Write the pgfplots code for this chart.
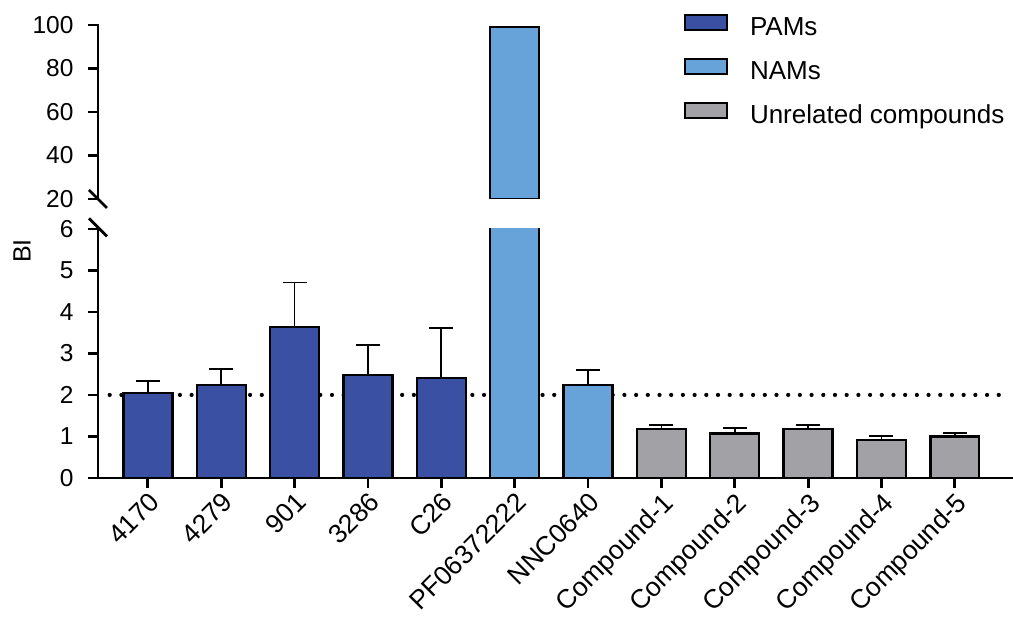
\documentclass[border=0pt]{standalone}
\usepackage{pgfplots}
\pgfplotsset{compat=1.18}
\usepackage{fontspec}
\setmainfont{Liberation Sans}
\definecolor{pam}{RGB}{58,81,163}
\definecolor{nam}{RGB}{103,162,216}
\definecolor{unr}{RGB}{161,161,166}
\begin{document}
\begin{tikzpicture}
\pgfplotsset{
  common/.style={
    scale only axis, width=915pt,
    xmin=-0.68, xmax=11.79,
    /pgf/number format/assume math mode=true,
    yticklabel style={font=\fontsize{24.5}{29}\selectfont, xshift=-11pt},
    ybar, bar shift=0pt, bar width=49pt,
    clip mode=individual,
  },
  errs/.style={error bars/.cd, y dir=plus, y explicit,
    error bar style={line width=1.8pt, black, solid},
    error mark options={rotate=90, mark size=12pt, line width=1.8pt, black}},
}
% lower axis
\begin{axis}[common, at={(0pt,0pt)}, anchor=south west, height=249pt,
  ymin=0, ymax=6, ytick={0,...,6},
  axis x line=bottom, axis y line=left,
  axis line style={-},
  major tick length=10pt, tick align=outside,
  xtick={0,...,11},
  xticklabels={4170,4279,901,3286,C26,PF06372222,NNC0640,Compound-1,Compound-2,Compound-3,Compound-4,Compound-5},
  xticklabel style={rotate=45, anchor=north east, inner sep=2pt, font=\fontsize{26.5}{30}\selectfont},
  ]
\addplot[sharp plot, forget plot, line width=4.2pt, line cap=round, dash pattern=on 0pt off 11.7pt, draw=black] coordinates {(-0.52,2) (11.61,2)};
\addplot[fill=pam, draw=black, line width=2.3pt, errs] coordinates {(0,2.04) +- (0,0.30) (1,2.24) +- (0,0.39) (2,3.63) +- (0,1.08) (3,2.48) +- (0,0.72) (4,2.40) +- (0,1.22)};
\addplot[fill=nam, draw=black, line width=2.3pt] coordinates {(5,99)};
\addplot[fill=nam, draw=black, line width=2.3pt, errs] coordinates {(6,2.24) +- (0,0.36)};
\addplot[fill=unr, draw=black, line width=2.3pt, errs] coordinates {(7,1.18) +- (0,0.10) (8,1.07) +- (0,0.14) (9,1.18) +- (0,0.10) (10,0.92) +- (0,0.09) (11,1.00) +- (0,0.09)};
\end{axis}
% upper axis
\begin{axis}[common, at={(0pt,279pt)}, anchor=south west, height=174pt,
  ymin=20, ymax=100, ytick={20,40,...,100},
  axis y line=left, axis x line=none, xtick=\empty,
  axis line style={-},
  major tick length=10pt, tick align=outside,
  legend style={at={(0.6404,1.063)}, anchor=north west, draw=none, fill=none,
    column sep=22pt, row sep=17pt, inner sep=0pt,
    nodes={inner sep=0pt, text height=19pt, text depth=6pt, font=\fontsize{26}{30}\selectfont}},
  legend cell align=left,
  ]
\addplot[fill=nam, draw=black, line width=2.3pt, forget plot] coordinates {(5,99)};
\addlegendimage{legend image code/.code={\draw[fill=pam,draw=black,line width=2pt] (0pt,-1.5pt) rectangle (42pt,13.5pt);}}
\addlegendentry{PAMs}
\addlegendimage{legend image code/.code={\draw[fill=nam,draw=black,line width=2pt] (0pt,-1.5pt) rectangle (42pt,13.5pt);}}
\addlegendentry{NAMs}
\addlegendimage{legend image code/.code={\draw[fill=unr,draw=black,line width=2pt] (0pt,-1.5pt) rectangle (42pt,13.5pt);}}
\addlegendentry{Unrelated compounds}
\end{axis}
% thick axis frame and ticks as filled bars (drawn over the axes)
\fill[black] (-1.4pt,-1.4pt) rectangle (1.4pt,249pt);
\fill[black] (-1.4pt,-1.4pt) rectangle (915pt,1.4pt);
\foreach \i in {0,...,11} {\fill[black] ({(\i+0.68)*73.376pt-1.4pt},0pt) rectangle ({(\i+0.68)*73.376pt+1.4pt},-10pt);}
\foreach \j in {0,...,6} {\fill[black] (-10pt,{\j*41.5pt-1.4pt}) rectangle (0pt,{\j*41.5pt+1.4pt});}
\fill[black] (-1.4pt,279pt) rectangle (1.4pt,454.4pt);
\foreach \v in {0,...,4} {\fill[black] (-10pt,{279pt+\v*43.5pt-1.4pt}) rectangle (0pt,{279pt+\v*43.5pt+1.4pt});}
% axis break marks
\draw[line width=2.8pt] (-9pt,259.5pt) -- (9pt,241.5pt);
\draw[line width=2.8pt] (-9pt,288pt) -- (9pt,270pt);
\node[rotate=90, font=\fontsize{25}{29}\selectfont] at (-76pt,227pt) {BI};
\useasboundingbox (-98pt,-144pt) rectangle (915pt,478pt);
\end{tikzpicture}
\end{document}
